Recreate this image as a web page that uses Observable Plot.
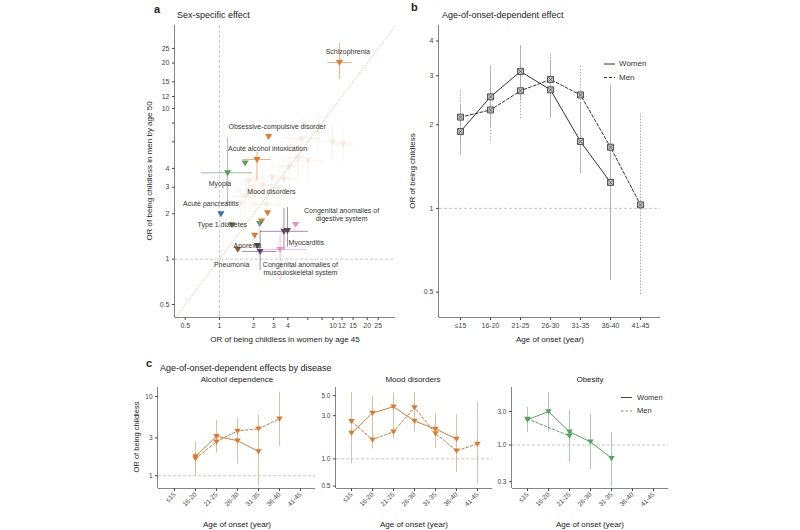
<!DOCTYPE html>
<html><head><meta charset="utf-8">
<script src="https://cdn.jsdelivr.net/npm/d3@7"></script>
<script src="https://cdn.jsdelivr.net/npm/@observablehq/plot@0.6"></script>
<style>
body{margin:0;background:#fff;}
#root{position:relative;width:800px;height:530px;overflow:hidden;font-family:"Liberation Sans",Arial,sans-serif;color:#222;background:#fff;}
.t{position:absolute;white-space:nowrap;line-height:1;}
</style></head><body><div id="root"></div>
<script>
// ---------------- DATA ----------------
const cats = ["≤15","16-20","21-25","26-30","31-35","36-40","41-45"];

// Panel a: sex-specific effect (x = women by 45, y = men by 50)
const aTicks = [0.5,1,2,3,4,6,8,10,12,15,20,25];
const aDomain = [0.41, 35.5];
// faded (non-highlighted) diseases
const fadedX   = [7.4, 9.9, 12.3, 4.9, 4.1, 2.9, 2.4, 1.9, 1.7, 3.3, 1.55, 2.05, 3.7, 6.0, 1.8, 2.6, 5.3];
const fadedY   = [7.0, 6.0, 5.8, 4.7, 4.1, 3.5, 3.1, 2.85, 2.6, 2.95, 2.35, 2.7, 3.4, 4.5, 3.3, 2.3, 6.3];
const fadedXlo = [5.6, 7.6, 9.6, 3.6, 3.0, 2.1, 1.8, 1.4, 1.3, 2.4, 1.1, 1.5, 2.7, 4.3, 1.3, 1.9, 3.6];
const fadedXhi = [9.8, 12.9, 15.8, 6.6, 5.6, 4.0, 3.2, 2.6, 2.3, 4.5, 2.2, 2.8, 5.1, 8.4, 2.5, 3.6, 7.8];
const fadedYlo = [5.2, 4.6, 4.4, 3.5, 3.0, 2.6, 2.3, 2.1, 1.9, 2.2, 1.7, 2.0, 2.5, 3.3, 2.4, 1.7, 4.6];
const fadedYhi = [9.4, 7.8, 7.6, 6.3, 5.6, 4.7, 4.2, 3.9, 3.5, 4.0, 3.2, 3.6, 4.6, 6.1, 4.5, 3.1, 8.6];
// highlighted diseases
const hiX     = [11.4, 2.71, 2.14, 1.68, 1.18, 1.03, 2.65, 2.35, 2.26, 1.29, 2.04, 2.15, 1.45, 2.28, 3.42, 3.70, 3.97, 4.69];
const hiY     = [20.2, 6.51, 4.58, 4.35, 3.74, 2.00, 2.03, 1.79, 1.72, 1.69, 1.44, 1.23, 1.16, 1.125, 1.16, 1.53, 1.55, 1.70];
const hiGroup = ["psy","psy","psy","eye","eye","dig","psy","psy","eye","end","psy","dark","brown","purple","pink","purple","dark","pink"];
const hiXlo   = [9.0, null, 1.6, null, 0.69, null, null, null, null, null, null, null, null, 1.6, 2.5, 2.3, null, null];
const hiXhi   = [14.7, null, 2.85, null, 1.96, null, null, null, null, null, null, null, null, 3.2, 5.9, 6.1, null, null];
const hiYlo   = [15.5, null, 3.3, null, 2.27, null, null, null, null, null, null, null, null, 0.84, 0.72, 1.14, 1.2, null];
const hiYhi   = [26.9, null, 5.1, null, 6.44, null, null, null, null, null, null, null, null, 1.55, 1.44, 2.17, 2.2, null];
const groupNames  = ["psy","eye","dig","end","dark","brown","purple","pink"];
const groupColors = ["#e07b30","#5c9e62","#3f6fb3","#7f7350","#4f4f4f","#8a5a2e","#6c3a6e","#ec8fc0"];
// annotations
const annText = ["Schizophrenia","Obsessive-compulsive disorder","Acute alcohol intoxication","Myopia","Mood disorders","Acute pancreatitis","Congenital anomalies of\ndigestive system","Type 1 diabetes","Myocarditis","Anorexia","Pneumonia","Congenital anomalies of\nmusculoskeletal system"];
const annX = [13.5, 3.22, 2.65, 1.01, 2.87, 0.84, 11.9, 1.06, 5.82, 1.76, 1.28, 5.16];
const annY = [23.8, 7.58, 5.42, 3.16, 2.82, 2.35, 1.97, 1.69, 1.30, 1.23, 0.92, 0.87];

// Panel b: age-of-onset-dependent effect
const bTicks = [0.5,1,2,3,4];
const bDomain = [0.405, 4.55];
const bWomen   = [1.89, 2.52, 3.11, 2.67, 1.74, 1.24, null];
const bMen     = [2.13, 2.26, 2.65, 2.91, 2.56, 1.66, 1.03];
const bWomenLo = [1.55, 1.95, 2.45, 2.11, 1.33, 0.55, null];
const bWomenHi = [2.35, 3.25, 3.85, 3.40, 2.40, 2.78, null];
const bMenLo   = [1.70, 1.75, 2.10, 2.20, 1.90, 1.10, 0.49];
const bMenHi   = [2.67, 2.90, 3.30, 3.63, 3.27, 2.50, 2.19];

// Panel c: by disease
const alcWomen = [null, 1.75, 3.15, 2.77, 2.03, null, null];
const alcMen   = [null, 1.65, 2.69, 3.68, 3.91, 5.24, null];
const alcLo    = [null, 0.98, 1.93, 1.41, 0.74, 2.35, null];
const alcHi    = [null, 2.72, 5.00, 5.25, 5.80, 11.3, null];
const moodWomen = [1.93, 3.21, 3.77, 2.62, 2.14, 1.66, null];
const moodMen   = [2.60, 1.63, 2.00, 3.70, 1.91, 1.23, 1.46];
const moodLo    = [0.88, 1.29, 1.66, 1.96, 1.31, 0.71, 0.53];
const moodHi    = [5.40, 4.89, 5.33, 5.40, 3.13, 3.05, 4.20];
const obWomen = [2.29, 3.00, 1.54, 1.11, 0.65, null, null];
const obMen   = [2.35, null, 1.35, null, null, null, null];
const obLo    = [1.50, 1.53, 0.57, 0.45, 0.25, null, null];
const obHi    = [3.45, 5.60, 3.10, 2.70, 1.50, null, null];

// ---------------- HELPERS ----------------
const root = document.getElementById("root");
const FONT = "Liberation Sans, Arial, sans-serif";
function txt(s, x, y, o = {}) {
  const d = document.createElement("div");
  d.className = "t";
  d.textContent = s;
  d.style.left = x + "px"; d.style.top = y + "px";
  d.style.fontSize = (o.size || 8) + "px";
  if (o.bold) d.style.fontWeight = "bold";
  d.style.color = o.color || "#222";
  const tr = [];
  if (o.center) tr.push("translate(-50%,-50%)"); else tr.push("translate(0,-50%)");
  if (o.rotate) tr.push("rotate(" + o.rotate + "deg)");
  d.style.transform = tr.join(" ");
  root.appendChild(d);
}
function place(svg, left, top) {
  svg.style.position = "absolute";
  svg.style.left = left + "px";
  svg.style.top = top + "px";
  svg.style.maxWidth = "none";
  root.appendChild(svg);
  // axis lines from the library's scale ranges
  const sx = svg.scale("x"), sy = svg.scale("y");
  const [xa, xb] = d3.extent(sx.range), [ya, yb] = d3.extent(sy.range);
  const g = d3.select(svg).append("g").attr("stroke", "#666").attr("stroke-width", 0.8);
  g.append("line").attr("x1", xa).attr("x2", xb).attr("y1", yb + 0.5).attr("y2", yb + 0.5);
  g.append("line").attr("x1", xa - 0.5).attr("x2", xa - 0.5).attr("y1", ya).attr("y2", yb);
}
const triDown = {
  draw(ctx, size) {
    const r = Math.sqrt(size / Math.PI);
    ctx.moveTo(-r, -r * 0.7);
    ctx.lineTo(r, -r * 0.7);
    ctx.lineTo(0, r * 0.95);
    ctx.closePath();
  }
};
const colorOf = g => groupColors[groupNames.indexOf(g)];

// ---------------- PANEL A ----------------
{
  const fi = d3.range(fadedX.length);
  const hi = d3.range(hiX.length);
  const hx = hi.filter(i => hiXlo[i] != null);
  const hy = hi.filter(i => hiYlo[i] != null);
  const ai = d3.range(annText.length);
  const plot = Plot.plot({
    width: 280, height: 350,
    marginLeft: 45, marginRight: 15, marginTop: 25, marginBottom: 33,
    style: {background: "transparent", fontFamily: FONT, fontSize: "7px", color: "#444", overflow: "visible"},
    x: {type: "log", domain: aDomain},
    y: {type: "log", domain: aDomain},
    marks: [
      Plot.ruleX([1], {stroke: "#bbb", strokeDasharray: "3,2", strokeWidth: 0.8}),
      Plot.ruleY([1], {stroke: "#bbb", strokeDasharray: "3,2", strokeWidth: 0.8}),
      Plot.line(aDomain, {x: d => d, y: d => d, stroke: "#e3cdb8", strokeDasharray: "1,2", strokeWidth: 1}),
      Plot.ruleX(fi, {x: i => fadedX[i], y1: i => fadedYlo[i], y2: i => fadedYhi[i], stroke: "#f3dccb", strokeWidth: 0.8, strokeOpacity: 0.45}),
      Plot.ruleY(fi, {y: i => fadedY[i], x1: i => fadedXlo[i], x2: i => fadedXhi[i], stroke: "#f3dccb", strokeWidth: 0.8, strokeOpacity: 0.45}),
      Plot.dot(fi, {x: i => fadedX[i], y: i => fadedY[i], symbol: triDown, r: 3.6, fill: "#f3d6bf", fillOpacity: 0.4}),
      Plot.ruleX(hy, {x: i => hiX[i], y1: i => hiYlo[i], y2: i => hiYhi[i], stroke: i => colorOf(hiGroup[i]), strokeWidth: 0.8, strokeOpacity: 0.75}),
      Plot.ruleY(hx, {y: i => hiY[i], x1: i => hiXlo[i], x2: i => hiXhi[i], stroke: i => colorOf(hiGroup[i]), strokeWidth: 0.8, strokeOpacity: 0.75}),
      Plot.dot(hi, {x: i => hiX[i], y: i => hiY[i], symbol: triDown, r: 3.6, fill: i => colorOf(hiGroup[i])}),
      Plot.text(ai, {x: i => annX[i], y: i => annY[i], text: i => annText[i], fontSize: 7, fill: "#333", lineHeight: 1.15}),
      Plot.axisX({ticks: aTicks, tickFormat: d => String(d), tickSize: 3, tickPadding: 3, label: null}),
      Plot.axisY({ticks: aTicks, tickFormat: d => String(d), tickSize: 3, tickPadding: 3, label: null})
    ]
  });
  place(plot, 130, 0);
  txt("a", 154, 9, {bold: true, size: 11});
  txt("Sex-specific effect", 177, 15, {size: 9});
  txt("OR of being childless in men by age 50", 150, 171, {size: 8, center: true, rotate: -90});
  txt("OR of being childless in women by age 45", 285, 340, {size: 8, center: true});
}

// ---------------- PANEL B ----------------
{
  const ii = d3.range(cats.length);
  const wi = ii.filter(i => bWomen[i] != null);
  const mi = ii.filter(i => bMen[i] != null);
  const wci = ii.filter(i => bWomenLo[i] != null);
  const mci = ii.filter(i => bMenLo[i] != null);
  const plot = Plot.plot({
    width: 270, height: 350,
    marginLeft: 39, marginRight: 10, marginTop: 25, marginBottom: 33,
    style: {background: "transparent", fontFamily: FONT, fontSize: "7px", color: "#444", overflow: "visible"},
    x: {type: "point", domain: cats, padding: 0.6},
    y: {type: "log", domain: bDomain},
    marks: [
      Plot.ruleY([1], {stroke: "#bbb", strokeDasharray: "3,2", strokeWidth: 0.8}),
      Plot.ruleX(mci, {x: i => cats[i], y1: i => bMenLo[i], y2: i => bMenHi[i], stroke: "#aaa", strokeWidth: 1, strokeDasharray: "1.5,1.5"}),
      Plot.ruleX(wci, {x: i => cats[i], y1: i => bWomenLo[i], y2: i => bWomenHi[i], stroke: "#aaa", strokeWidth: 0.9}),
      Plot.line(mi, {x: i => cats[i], y: i => bMen[i], stroke: "#333", strokeWidth: 1, strokeDasharray: "3,2"}),
      Plot.line(wi, {x: i => cats[i], y: i => bWomen[i], stroke: "#333", strokeWidth: 1}),
      Plot.dot(mi, {x: i => cats[i], y: i => bMen[i], symbol: "square", r: 3.4, fill: "#c4c4c4", stroke: "#333", strokeWidth: 0.8}),
      Plot.dot(mi, {x: i => cats[i], y: i => bMen[i], symbol: "times", r: 2.2, fill: "none", stroke: "#333", strokeWidth: 0.6}),
      Plot.dot(wi, {x: i => cats[i], y: i => bWomen[i], symbol: "square", r: 3.4, fill: "#c4c4c4", stroke: "#333", strokeWidth: 0.8}),
      Plot.dot(wi, {x: i => cats[i], y: i => bWomen[i], symbol: "times", r: 2.2, fill: "none", stroke: "#333", strokeWidth: 0.6}),
      Plot.axisX({tickSize: 3, tickPadding: 3, label: null}),
      Plot.axisY({ticks: bTicks, tickFormat: d => String(d), tickSize: 3, tickPadding: 3, label: null})
    ]
  });
  place(plot, 400, 0);
  txt("b", 411, 7, {bold: true, size: 11});
  txt("Age-of-onset-dependent effect", 442, 15, {size: 9});
  txt("OR of being childless", 413, 171, {size: 8, center: true, rotate: -90});
  txt("Age of onset (year)", 550, 340, {size: 8, center: true});
  // legend
  const lg = document.createElement("div");
  lg.style.position = "absolute"; lg.style.left = "603px"; lg.style.top = "58px";
  lg.innerHTML = `<svg width="70" height="28" style="position:absolute;left:0;top:0;overflow:visible">
    <line x1="1" x2="12" y1="6" y2="6" stroke="#333" stroke-width="1"/>
    <line x1="1" x2="12" y1="19.5" y2="19.5" stroke="#333" stroke-width="1" stroke-dasharray="3,2"/></svg>`;
  root.appendChild(lg);
  txt("Women", 619, 64, {size: 8, color: "#333"});
  txt("Men", 619, 77.5, {size: 8, color: "#333"});
}

// ---------------- PANEL C ----------------
function panelC(women, men, lo, hi, yDomain, yTicks, fmt, color, barColor, left, width, mr) {
  const ii = d3.range(cats.length);
  const wi = ii.filter(i => women[i] != null);
  const mi = ii.filter(i => men[i] != null);
  const ci = ii.filter(i => lo[i] != null);
  const plot = Plot.plot({
    width, height: 155,
    marginLeft: 20, marginRight: mr, marginTop: 12, marginBottom: 42,
    style: {background: "transparent", fontFamily: FONT, fontSize: "6.5px", color: "#444", overflow: "visible"},
    x: {type: "point", domain: cats, padding: 0.61},
    y: {type: "log", domain: yDomain},
    marks: [
      Plot.ruleY([1], {stroke: "#bbb", strokeDasharray: "3,2", strokeWidth: 0.8}),
      Plot.ruleX(ci, {x: i => cats[i], y1: i => lo[i], y2: i => hi[i], stroke: barColor, strokeWidth: 0.9}),
      Plot.line(mi, {x: i => cats[i], y: i => men[i], stroke: color, strokeWidth: 1, strokeDasharray: "2.5,2"}),
      Plot.line(wi, {x: i => cats[i], y: i => women[i], stroke: color, strokeWidth: 1}),
      Plot.dot(mi, {x: i => cats[i], y: i => men[i], symbol: triDown, r: 3.2, fill: color}),
      Plot.dot(wi, {x: i => cats[i], y: i => women[i], symbol: triDown, r: 3.2, fill: color}),
      Plot.axisX({tickSize: 3, tickPadding: 2, tickRotate: -45, label: null}),
      Plot.axisY({ticks: yTicks, tickFormat: fmt, tickSize: 3, tickPadding: 3, label: null})
    ]
  });
  place(plot, left, 375);
}
panelC(alcWomen, alcMen, alcLo, alcHi, [0.69, 13], [1, 3, 10], d => String(d), "#de7a2e", "#d9b896", 138, 187, 10);
panelC(moodWomen, moodMen, moodLo, moodHi, [0.47, 6.15], [0.5, 1, 3, 5], d => d.toFixed(1), "#de7a2e", "#d9b896", 316, 186, 10);
panelC(obWomen, obMen, obLo, obHi, [0.24, 6.6], [0.3, 1, 3], d => d.toFixed(1), "#55a35f", "#a3c6a6", 492, 187, 11);
txt("c", 146, 363, {bold: true, size: 11});
txt("Age-of-onset-dependent effects by disease", 160, 368, {size: 9});
txt("Alcohol dependence", 237, 380, {size: 8, center: true});
txt("Mood disorders", 413, 380, {size: 8, center: true});
txt("Obesity", 590, 380, {size: 8, center: true});
txt("OR of being childless", 137, 437, {size: 7.5, center: true, rotate: -90});
txt("Age of onset (year)", 237, 525, {size: 8, center: true});
txt("Age of onset (year)", 414, 525, {size: 8, center: true});
txt("Age of onset (year)", 590, 525, {size: 8, center: true});
{
  const lg = document.createElement("div");
  lg.style.position = "absolute"; lg.style.left = "621px"; lg.style.top = "392px";
  lg.innerHTML = `<svg width="20" height="20" style="position:absolute;left:0;top:0;overflow:visible">
    <line x1="0" x2="11" y1="5.5" y2="5.5" stroke="#444" stroke-width="1"/>
    <line x1="0" x2="11" y1="19" y2="19" stroke="#888" stroke-width="1" stroke-dasharray="2.5,2"/></svg>`;
  root.appendChild(lg);
  txt("Women", 637, 397.5, {size: 7.5, color: "#333"});
  txt("Men", 637, 411, {size: 7.5, color: "#333"});
}
</script></body></html>
